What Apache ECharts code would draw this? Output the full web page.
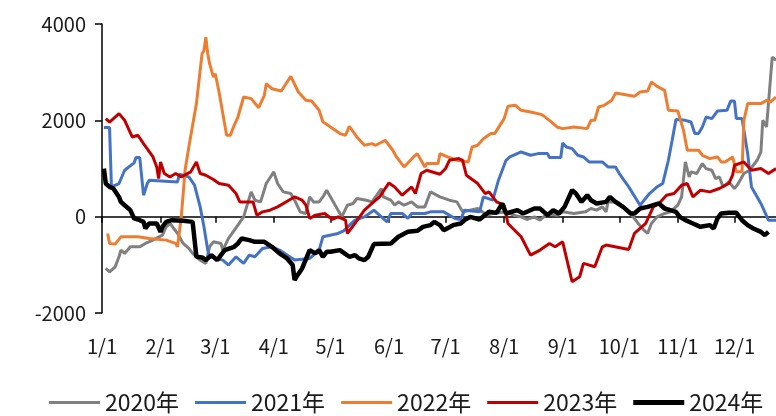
<!DOCTYPE html>
<html><head><meta charset="utf-8">
<script src="https://cdn.jsdelivr.net/npm/echarts@6/dist/echarts.min.js"></script>
<style>html,body{margin:0;padding:0;background:#fff}#c{width:776px;height:416px}</style>
</head><body><div id="c"></div>
<script>
// Leap-year day categories 1/1 .. 12/23
const monthDays = [31,29,31,30,31,30,31,31,30,31,30,23];
const categories = [];
monthDays.forEach((n, m) => { for (let d = 1; d <= n; d++) categories.push((m + 1) + '/' + d); });
const seriesNames = ['2020年','2021年','2022年','2023年','2024年'];
const yTicks = [-2000, 0, 2000, 4000];

// [day index, value]
const s2020 = [[2,-1075],[4,-1144],[7,-1041],[9,-833],[10,-694],[12,-763],[15,-625],[20,-625],[23,-556],[27,-487],[32,-384],[34,-211],[36,-141],[38,-245],[40,-348],[43,-556],[46,-659],[48,-763],[52,-902],[55,-970],[57,-625],[59,-522],[63,-556],[64,-694],[67,-452],[72,-176],[75,-4],[79,515],[81,342],[84,307],[87,688],[91,930],[93,688],[96,515],[100,480],[102,342],[105,100],[108,66],[110,410],[112,307],[115,307],[117,410],[119,549],[123,274],[127,-4],[130,238],[133,274],[135,377],[140,342],[143,307],[148,584],[149,410],[153,342],[155,238],[157,307],[160,238],[164,307],[167,203],[171,203],[172,307],[174,515],[179,410],[184,342],[188,307],[191,100],[195,135],[199,170],[204,31],[207,66],[214,100],[218,31],[222,-4],[225,-58],[229,-4],[232,-73],[236,66],[241,31],[244,100],[250,66],[256,100],[259,170],[262,135],[265,203],[267,100],[268,307],[273,307],[276,203],[280,66],[284,-141],[287,-280],[289,-348],[291,-141],[294,-4],[298,66],[301,100],[305,238],[307,410],[309,1136],[311,825],[312,930],[315,895],[318,1102],[320,998],[323,964],[325,792],[327,825],[329,618],[332,722],[335,584],[337,688],[340,895],[343,964],[347,1171],[349,1343],[350,2000],[352,1862],[355,3314],[357,3245]];

const s2021 = [[1,1849],[4,1849],[5,618],[9,688],[12,964],[17,1116],[18,1227],[20,1227],[22,446],[24,688],[25,757],[40,722],[41,881],[46,825],[49,653],[52,203],[54,-211],[56,-694],[57,-833],[64,-902],[67,-1005],[71,-833],[75,-970],[78,-798],[81,-833],[85,-659],[90,-625],[94,-694],[102,-902],[110,-867],[115,-694],[117,-418],[125,-348],[128,-294],[134,-73],[139,-4],[144,135],[148,-4],[151,-108],[153,66],[159,66],[162,-37],[164,66],[171,66],[174,100],[181,100],[187,-37],[190,-58],[192,135],[200,100],[202,410],[207,342],[210,757],[214,1171],[216,1240],[222,1343],[227,1275],[231,1309],[236,1309],[237,1227],[243,1227],[244,1530],[246,1447],[249,1413],[252,1275],[255,1240],[258,1136],[265,1136],[268,1032],[272,1032],[274,895],[279,618],[285,238],[290,480],[294,618],[297,688],[300,1171],[302,1586],[304,2015],[309,2000],[312,1965],[314,1725],[316,1725],[318,1862],[320,2069],[323,2036],[326,2193],[331,2208],[333,2400],[335,2400],[336,2036],[339,2036],[342,1309],[344,618],[349,274],[353,-73],[357,-73]];

const s2022 = [[3,-348],[4,-556],[7,-570],[10,-418],[19,-418],[25,-452],[34,-487],[39,-556],[40,-625],[42,-4],[44,964],[46,1447],[47,1447],[50,2347],[53,3383],[54,3452],[55,3727],[56,3383],[57,3176],[59,2898],[60,2968],[62,2588],[66,1690],[68,1690],[70,1897],[72,2069],[75,2484],[79,2450],[83,2263],[86,2519],[87,2761],[90,2656],[95,2608],[98,2795],[100,2912],[104,2588],[108,2415],[111,2400],[115,2208],[117,1965],[119,1918],[121,1862],[126,1725],[129,1690],[131,1876],[135,1655],[139,1482],[143,1517],[145,1482],[150,1586],[154,1379],[156,1240],[160,1032],[165,1240],[167,1309],[171,1032],[172,1102],[178,1102],[179,1309],[183,1240],[188,1171],[194,1136],[196,1447],[199,1482],[202,1620],[206,1725],[208,1725],[213,2036],[215,2291],[219,2311],[222,2208],[227,2173],[233,2118],[237,2000],[241,1862],[244,1828],[250,1862],[257,1828],[259,2000],[261,2000],[263,2277],[266,2311],[270,2415],[272,2566],[282,2498],[285,2588],[289,2608],[291,2795],[294,2705],[298,2622],[300,2208],[305,2193],[308,1793],[310,1379],[316,1379],[318,1275],[322,1206],[326,1240],[328,1136],[330,1136],[334,1240],[336,930],[339,930],[340,2000],[342,2347],[349,2347],[352,2415],[354,2380],[357,2484]];

const s2023 = [[2,2036],[4,1965],[9,2140],[12,2000],[16,1655],[19,1690],[22,1517],[27,1240],[29,1032],[30,792],[31,1136],[33,895],[36,825],[39,895],[42,825],[47,930],[50,1136],[52,895],[55,860],[59,771],[62,688],[67,653],[71,480],[73,307],[80,307],[82,31],[85,100],[89,135],[93,203],[94,170],[99,342],[102,410],[106,342],[108,238],[110,-37],[113,31],[118,66],[122,-58],[125,-4],[129,-73],[130,-348],[134,-141],[139,135],[143,274],[147,410],[152,700],[155,618],[159,446],[164,618],[166,480],[169,895],[172,964],[179,880],[182,1000],[184,1171],[189,1206],[191,1171],[193,860],[199,688],[203,480],[205,515],[209,307],[213,238],[215,-141],[222,-418],[227,-798],[232,-694],[237,-556],[240,-625],[244,-522],[249,-1351],[253,-1248],[255,-970],[261,-1041],[265,-625],[267,-590],[279,-680],[282,-348],[288,-141],[292,203],[295,274],[299,446],[303,480],[307,653],[310,688],[313,410],[317,549],[322,515],[327,584],[332,688],[334,860],[335,1068],[340,1136],[344,964],[349,998],[353,895],[357,998]];

const s2024 = [[1,998],[2,688],[4,618],[6,584],[9,410],[10,307],[12,238],[15,135],[17,-37],[20,-73],[22,-108],[23,-245],[25,-141],[29,-141],[31,-315],[32,-211],[34,-108],[37,-73],[43,-87],[48,-108],[49,-141],[50,-833],[53,-846],[55,-902],[58,-798],[61,-902],[62,-902],[65,-694],[70,-625],[72,-556],[74,-452],[78,-487],[81,-522],[86,-522],[90,-625],[94,-763],[98,-867],[101,-1005],[102,-1316],[103,-1248],[106,-1075],[110,-694],[113,-763],[115,-694],[117,-833],[119,-729],[121,-729],[126,-694],[127,-694],[131,-833],[134,-798],[136,-867],[139,-902],[141,-833],[144,-570],[153,-556],[157,-418],[162,-315],[167,-294],[170,-211],[174,-176],[176,-108],[179,-176],[181,-280],[186,-176],[190,-141],[192,-73],[195,-4],[200,-58],[205,100],[209,79],[212,274],[214,66],[220,135],[223,66],[229,170],[232,170],[234,100],[236,31],[239,135],[242,66],[245,203],[249,549],[251,480],[254,307],[257,446],[259,342],[262,274],[267,307],[269,410],[272,307],[276,203],[280,66],[282,66],[285,170],[289,203],[295,274],[298,170],[301,135],[304,100],[306,-4],[309,-73],[313,-141],[317,-211],[322,-176],[324,-245],[326,-37],[328,66],[332,79],[336,79],[339,-73],[342,-176],[345,-245],[349,-315],[351,-384],[353,-315]];

const seriesData = [s2020, s2021, s2022, s2023, s2024];
const colors = ['#808080','#4472c4','#ed7d31','#c00000','#000000'];
const widths = [3, 3, 3, 3, 4.5];
const legendIcons = [
  'path://M0,0H51V3H0Z', 'path://M0,0H51V3H0Z', 'path://M0,0H51V3H0Z',
  'path://M0,0H51V3H0Z', 'path://M0,0H51V5H0Z'
];

const isMonthStart = (i, v) => /\/1$/.test(v);
const FONT = 'Noto Sans CJK SC';
const chart = echarts.init(document.getElementById('c'));
chart.setOption({
  animation: false,
  color: colors,
  grid: { left: 102, right: 0, top: 24, bottom: 103 },
  legend: {
    top: 391, left: 49, width: 727, padding: 0, itemWidth: 51, itemHeight: 14, itemGap: 16,
    textStyle: { fontSize: 23, color: '#1a1a1a', fontFamily: FONT },
    data: seriesNames.map((n, i) => ({ name: n, icon: legendIcons[i], itemStyle: { color: colors[i] } }))
  },
  xAxis: [{
    type: 'category', data: categories, boundaryGap: false, position: 'bottom',
    axisLine: { onZero: true, lineStyle: { color: '#000', width: 1.5 } },
    axisTick: { show: true, interval: isMonthStart, length: 6, lineStyle: { color: '#000', width: 1.5 } },
    axisLabel: { show: false }, splitLine: { show: false }
  }, {
    type: 'category', data: categories, boundaryGap: false, position: 'bottom',
    axisLine: { show: false, onZero: false }, axisTick: { show: false },
    axisLabel: { interval: isMonthStart, margin: 23, fontSize: 20, color: '#1a1a1a', fontFamily: FONT },
    splitLine: { show: false }
  }],
  yAxis: {
    type: 'value', min: -2000, max: 4000, interval: 2000,
    axisLine: { show: true, lineStyle: { color: '#000', width: 1.5 } },
    axisTick: { show: true, length: 7, lineStyle: { color: '#000', width: 1.5 } },
    axisLabel: { margin: 16, fontSize: 20, color: '#1a1a1a', fontFamily: FONT,
      formatter: v => yTicks.includes(v) ? String(v) : '' },
    splitLine: { show: false }
  },
  series: seriesData.map((d, i) => ({
    name: seriesNames[i], type: 'line', data: d, xAxisIndex: 0,
    symbol: 'none', smooth: false,
    lineStyle: { color: colors[i], width: widths[i] },
    itemStyle: { color: colors[i] },
    z: 2 + i
  }))
});
</script></body></html>
